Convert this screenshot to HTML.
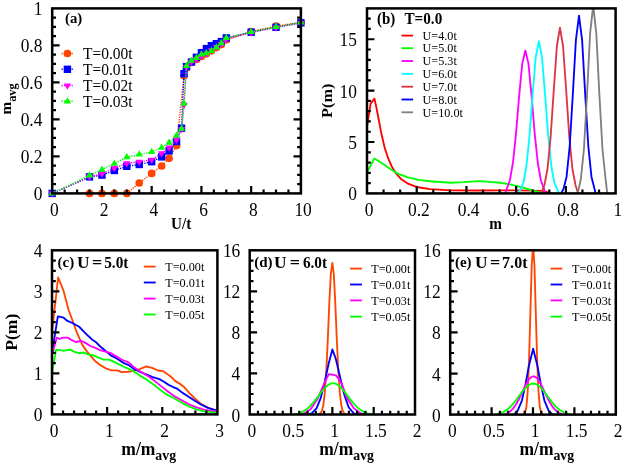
<!DOCTYPE html>
<html><head><meta charset="utf-8"><title>figure</title>
<style>html,body{margin:0;padding:0;background:#fff;}svg{display:block;font-family:"Liberation Serif",serif;will-change:transform;-webkit-font-smoothing:antialiased;}</style>
</head><body>
<svg width="627" height="463" viewBox="0 0 627 463">
<rect width="627" height="463" fill="#fff"/>
<defs>
<clipPath id="ca"><rect x="52.2" y="8.4" width="248.7" height="185"/></clipPath>
<clipPath id="cb"><rect x="367" y="8.4" width="248.6" height="185"/></clipPath>
<clipPath id="cc"><rect x="52" y="250.3" width="165.4" height="164.1"/></clipPath>
<clipPath id="cd"><rect x="249.7" y="250.3" width="165.3" height="164.2"/></clipPath>
<clipPath id="ce"><rect x="450.2" y="250.3" width="165.6" height="164.3"/></clipPath>
</defs>
<g id="pa">
<polyline points="89.5,193.4 101.94,193.4 114.38,193.4 126.81,193.4 139.25,183 151.68,173.4 161.63,166 169.09,158.3 176.55,145.6 184.01,75.8 186.5,67.8 191.47,62.4 196.45,59.4 201.42,56.5 206.39,53.8 211.37,50.8 216.34,47.6 221.32,44.6 226.29,39.8 251.16,31.6 276.03,26 300.9,22.3" fill="none" stroke="#ff4500" stroke-width="1.4" stroke-dasharray="1.3 1.2"/>
<circle cx="89.5" cy="193.4" r="3.85" fill="#ff4500"/>
<circle cx="101.94" cy="193.4" r="3.85" fill="#ff4500"/>
<circle cx="114.38" cy="193.4" r="3.85" fill="#ff4500"/>
<circle cx="126.81" cy="193.4" r="3.85" fill="#ff4500"/>
<circle cx="139.25" cy="183" r="3.85" fill="#ff4500"/>
<circle cx="151.68" cy="173.4" r="3.85" fill="#ff4500"/>
<circle cx="161.63" cy="166" r="3.85" fill="#ff4500"/>
<circle cx="169.09" cy="158.3" r="3.85" fill="#ff4500"/>
<circle cx="176.55" cy="145.6" r="3.85" fill="#ff4500"/>
<circle cx="184.01" cy="75.8" r="3.85" fill="#ff4500"/>
<circle cx="186.5" cy="67.8" r="3.85" fill="#ff4500"/>
<circle cx="191.47" cy="62.4" r="3.85" fill="#ff4500"/>
<circle cx="196.45" cy="59.4" r="3.85" fill="#ff4500"/>
<circle cx="201.42" cy="56.5" r="3.85" fill="#ff4500"/>
<circle cx="206.39" cy="53.8" r="3.85" fill="#ff4500"/>
<circle cx="211.37" cy="50.8" r="3.85" fill="#ff4500"/>
<circle cx="216.34" cy="47.6" r="3.85" fill="#ff4500"/>
<circle cx="221.32" cy="44.6" r="3.85" fill="#ff4500"/>
<circle cx="226.29" cy="39.8" r="3.85" fill="#ff4500"/>
<circle cx="251.16" cy="31.6" r="3.85" fill="#ff4500"/>
<circle cx="276.03" cy="26" r="3.85" fill="#ff4500"/>
<circle cx="300.9" cy="22.3" r="3.85" fill="#ff4500"/>
<polyline points="52.2,193.4 89.5,176.9 101.94,175.1 114.38,170.5 126.81,166.3 139.25,164.5 151.68,161.7 161.63,156.9 169.09,150.9 176.55,141.4 181.52,128.2 184.01,73.6 186.5,66.6 191.47,62 196.45,57.3 201.42,52.7 206.39,48.6 211.37,45.7 216.34,43.7 221.32,41.6 226.29,37.9 251.16,32.2 276.03,27.3 300.9,22.8" fill="none" stroke="#0000ff" stroke-width="1.4" stroke-dasharray="1.3 1.2"/>
<rect x="48.5" y="189.7" width="7.4" height="7.4" fill="#0000ff"/>
<rect x="85.8" y="173.2" width="7.4" height="7.4" fill="#0000ff"/>
<rect x="98.24" y="171.4" width="7.4" height="7.4" fill="#0000ff"/>
<rect x="110.67" y="166.8" width="7.4" height="7.4" fill="#0000ff"/>
<rect x="123.11" y="162.6" width="7.4" height="7.4" fill="#0000ff"/>
<rect x="135.55" y="160.8" width="7.4" height="7.4" fill="#0000ff"/>
<rect x="147.98" y="158" width="7.4" height="7.4" fill="#0000ff"/>
<rect x="157.93" y="153.2" width="7.4" height="7.4" fill="#0000ff"/>
<rect x="165.39" y="147.2" width="7.4" height="7.4" fill="#0000ff"/>
<rect x="172.85" y="137.7" width="7.4" height="7.4" fill="#0000ff"/>
<rect x="177.82" y="124.5" width="7.4" height="7.4" fill="#0000ff"/>
<rect x="180.31" y="69.9" width="7.4" height="7.4" fill="#0000ff"/>
<rect x="182.8" y="62.9" width="7.4" height="7.4" fill="#0000ff"/>
<rect x="187.77" y="58.3" width="7.4" height="7.4" fill="#0000ff"/>
<rect x="192.75" y="53.6" width="7.4" height="7.4" fill="#0000ff"/>
<rect x="197.72" y="49" width="7.4" height="7.4" fill="#0000ff"/>
<rect x="202.69" y="44.9" width="7.4" height="7.4" fill="#0000ff"/>
<rect x="207.67" y="42" width="7.4" height="7.4" fill="#0000ff"/>
<rect x="212.64" y="40" width="7.4" height="7.4" fill="#0000ff"/>
<rect x="217.62" y="37.9" width="7.4" height="7.4" fill="#0000ff"/>
<rect x="222.59" y="34.2" width="7.4" height="7.4" fill="#0000ff"/>
<rect x="247.46" y="28.5" width="7.4" height="7.4" fill="#0000ff"/>
<rect x="272.33" y="23.6" width="7.4" height="7.4" fill="#0000ff"/>
<rect x="297.2" y="19.1" width="7.4" height="7.4" fill="#0000ff"/>
<polyline points="52.2,193.4 89.5,176.5 101.94,173.9 114.38,168.1 126.81,163.3 139.25,161.8 151.68,159.8 161.63,153.4 169.09,147.6 176.55,139.8 181.52,129.2 184.01,104.9 186.5,67 191.47,61.9 196.45,59 201.42,56.1 206.39,53.5 211.37,50.4 216.34,47.2 221.32,44.2 226.29,39.2 251.16,32.6 276.03,27.5 300.9,23" fill="none" stroke="#ff00ff" stroke-width="1.4" stroke-dasharray="1.3 1.2"/>
<path d="M48.55 191.3H55.85L52.2 197.55Z" fill="#ff00ff"/>
<path d="M85.85 174.4H93.16L89.5 180.65Z" fill="#ff00ff"/>
<path d="M98.29 171.8H105.59L101.94 178.05Z" fill="#ff00ff"/>
<path d="M110.72 166H118.03L114.38 172.25Z" fill="#ff00ff"/>
<path d="M123.16 161.2H130.46L126.81 167.45Z" fill="#ff00ff"/>
<path d="M135.59 159.7H142.9L139.25 165.95Z" fill="#ff00ff"/>
<path d="M148.03 157.7H155.33L151.68 163.95Z" fill="#ff00ff"/>
<path d="M157.98 151.3H165.28L161.63 157.55Z" fill="#ff00ff"/>
<path d="M165.44 145.5H172.74L169.09 151.75Z" fill="#ff00ff"/>
<path d="M172.9 137.7H180.2L176.55 143.95Z" fill="#ff00ff"/>
<path d="M177.87 127.1H185.17L181.52 133.35Z" fill="#ff00ff"/>
<path d="M180.36 102.8H187.66L184.01 109.05Z" fill="#ff00ff"/>
<path d="M182.85 64.9H190.15L186.5 71.15Z" fill="#ff00ff"/>
<path d="M187.82 59.8H195.12L191.47 66.05Z" fill="#ff00ff"/>
<path d="M192.8 56.9H200.1L196.45 63.15Z" fill="#ff00ff"/>
<path d="M197.77 54H205.07L201.42 60.25Z" fill="#ff00ff"/>
<path d="M202.74 51.4H210.04L206.39 57.65Z" fill="#ff00ff"/>
<path d="M207.72 48.3H215.02L211.37 54.55Z" fill="#ff00ff"/>
<path d="M212.69 45.1H219.99L216.34 51.35Z" fill="#ff00ff"/>
<path d="M217.67 42.1H224.97L221.32 48.35Z" fill="#ff00ff"/>
<path d="M222.64 37.1H229.94L226.29 43.35Z" fill="#ff00ff"/>
<path d="M247.51 30.5H254.81L251.16 36.75Z" fill="#ff00ff"/>
<path d="M272.38 25.4H279.68L276.03 31.65Z" fill="#ff00ff"/>
<path d="M297.25 20.9H304.55L300.9 27.15Z" fill="#ff00ff"/>
<polyline points="52.2,193.4 89.5,175.4 101.94,169.6 114.38,163.6 126.81,157.2 139.25,154.5 151.68,152 161.63,147.6 169.09,142.7 176.55,135.3 181.52,128.7 184.01,103.4 186.5,65.9 191.47,60.7 196.45,57.8 201.42,54.3 206.39,53.1 211.37,50.8 216.34,47.3 221.32,43.2 226.29,38 251.16,32 276.03,27 300.9,22.5" fill="none" stroke="#00ff00" stroke-width="1.4" stroke-dasharray="1.3 1.2"/>
<path d="M48.55 195.5H55.85L52.2 189.25Z" fill="#00ff00"/>
<path d="M85.85 177.5H93.16L89.5 171.25Z" fill="#00ff00"/>
<path d="M98.29 171.7H105.59L101.94 165.45Z" fill="#00ff00"/>
<path d="M110.72 165.7H118.03L114.38 159.45Z" fill="#00ff00"/>
<path d="M123.16 159.3H130.46L126.81 153.05Z" fill="#00ff00"/>
<path d="M135.59 156.6H142.9L139.25 150.35Z" fill="#00ff00"/>
<path d="M148.03 154.1H155.33L151.68 147.85Z" fill="#00ff00"/>
<path d="M157.98 149.7H165.28L161.63 143.45Z" fill="#00ff00"/>
<path d="M165.44 144.8H172.74L169.09 138.55Z" fill="#00ff00"/>
<path d="M172.9 137.4H180.2L176.55 131.15Z" fill="#00ff00"/>
<path d="M177.87 130.8H185.17L181.52 124.55Z" fill="#00ff00"/>
<path d="M180.36 105.5H187.66L184.01 99.25Z" fill="#00ff00"/>
<path d="M182.85 68H190.15L186.5 61.75Z" fill="#00ff00"/>
<path d="M187.82 62.8H195.12L191.47 56.55Z" fill="#00ff00"/>
<path d="M192.8 59.9H200.1L196.45 53.65Z" fill="#00ff00"/>
<path d="M197.77 56.4H205.07L201.42 50.15Z" fill="#00ff00"/>
<path d="M202.74 55.2H210.04L206.39 48.95Z" fill="#00ff00"/>
<path d="M207.72 52.9H215.02L211.37 46.65Z" fill="#00ff00"/>
<path d="M212.69 49.4H219.99L216.34 43.15Z" fill="#00ff00"/>
<path d="M217.67 45.3H224.97L221.32 39.05Z" fill="#00ff00"/>
<path d="M222.64 40.1H229.94L226.29 33.85Z" fill="#00ff00"/>
<path d="M247.51 34.1H254.81L251.16 27.85Z" fill="#00ff00"/>
<path d="M272.38 29.1H279.68L276.03 22.85Z" fill="#00ff00"/>
<path d="M297.25 24.6H304.55L300.9 18.35Z" fill="#00ff00"/>
</g>
<g id="pb" clip-path="url(#cb)">
<polyline points="367,126.59 370.6,103.57 374.46,98.64 376.05,105.83 377.86,114.98 381.27,133.07 384.65,147.77 388.06,157.94 391.44,165.91 395.99,173.36 401.65,179.53 407.27,183.33 416.4,186.98 430,189.19 450.78,190.32 476.38,190.52 500,190.42 516.16,190.42 531.08,190.62 541.02,190.83 546.49,191.96 550.96,193.4" fill="none" stroke="#ff0000" stroke-width="1.85" stroke-linejoin="round"/>
<polyline points="367,172.02 374.46,158.46 382.41,163.59 391.44,169.76 398.25,173.87 407.27,177.21 418.63,179.94 430,181.27 450.78,182.71 463.71,182.2 479.37,181.07 489.56,181.89 500,182.71 511.19,184.66 521.13,187.03 531.08,190.01 538.53,192.06 545.99,193.4" fill="none" stroke="#00ff00" stroke-width="1.85" stroke-linejoin="round"/>
<polyline points="505.22,193.4 506.71,188.92 509.82,180.5 512.93,162.74 516.04,133.29 519.14,96.16 522.25,63.64 525.36,50.54 528.47,63.64 531.57,96.16 534.68,133.29 537.79,162.74 540.9,180.5 544,188.92 545,193.4" fill="none" stroke="#ff00ff" stroke-width="1.85" stroke-linejoin="round"/>
<polyline points="517.73,193.4 520.21,190.19 523.32,182.96 526.43,166.02 529.53,135.42 532.64,94.32 535.75,56.75 538.86,41.29 541.96,56.75 545.07,94.32 548.18,135.42 551.29,166.02 554.39,182.96 557.5,190.19 559.49,193.4" fill="none" stroke="#00ffff" stroke-width="1.85" stroke-linejoin="round"/>
<polyline points="541.32,193.4 544.43,184.98 547.53,168.79 550.64,136.7 553.75,90.49 556.86,46.25 559.96,27.62 563.07,46.25 566.18,90.49 569.29,136.7 572.39,168.79 575.5,184.98 578.11,193.4" fill="none" stroke="#dc3545" stroke-width="1.85" stroke-linejoin="round"/>
<polyline points="561.11,193.4 563.47,188.97 566.58,176.66 569.68,146.33 572.79,94.91 575.9,40.01 579.01,15.59 582.11,40.01 585.22,94.91 588.33,146.33 591.44,176.66 594.54,188.97 595.79,193.4" fill="none" stroke="#0000ff" stroke-width="1.85" stroke-linejoin="round"/>
<polyline points="577.66,193.4 580.77,179.52 583.88,149.98 586.99,95.37 590.09,33.59 593.2,5.32 596.31,33.59 599.42,95.37 602.52,149.98 605.63,179.52 607.25,193.4" fill="none" stroke="#808080" stroke-width="1.85" stroke-linejoin="round"/>
</g>
<g id="pc" clip-path="url(#cc)">
<polyline points="52,332.35 58.12,277.38 63.58,290.91 68.54,309.79 72.34,320.04 75.71,329.52 79.13,337.64 82.49,345.11 87.23,351.88 91.31,356.6 95.39,361.35 100.79,365.42 106.25,368.53 111.65,370.42 117.11,370.42 121.85,372.19 127.92,371.78 133.38,370.83 139.17,369.35 146.33,366.48 152.12,367.92 157.86,370.5 162.87,371.08 167.89,374.4 171.47,377.27 175.06,380.84 180.79,384.41 184.38,387.28 189.45,393.03 195.18,398.77 200.92,403.82 208.08,407.84 215.97,410.26 217.4,410.71" fill="none" stroke="#ff4500" stroke-width="1.85" stroke-linejoin="round"/>
<polyline points="52,352.86 57.84,316.35 63.58,317.58 66.94,320.7 72.34,323 79.13,326.77 83.87,331.53 88.61,336.29 92.69,340.06 95.39,341.7 99.47,345.77 106.25,351.47 111.65,355.94 117.11,358.65 123.89,363.12 129.3,365.42 134.7,369.48 139.17,371.53 146.33,374.4 152.12,376.82 159.29,379.12 163.59,381.54 168.61,384.86 173.62,387.28 177.21,388.72 182.22,392.62 189.45,397.33 195.18,400.94 200.92,404.51 208.08,407.84 215.97,410.26 217.4,410.71" fill="none" stroke="#0000ff" stroke-width="1.85" stroke-linejoin="round"/>
<polyline points="52,354.91 56.74,337.64 59.44,339 62.86,337.64 67.6,337.64 70.97,339.65 75.71,341.99 81.17,341.01 84.53,342.36 91.31,346.46 95.39,347.82 99.47,349.83 103.55,351.18 110.33,352.82 115.73,355.94 122.52,360 128.64,362.3 133.38,366.77 139.17,370.79 146.33,375.1 153.56,380.1 160.72,385.85 167.89,391.59 175.06,396.64 182.22,400.66 189.45,404.51 196.61,407.38 203.78,409.56 210.95,410.99 215.97,411.41 217.4,411.53" fill="none" stroke="#ff00ff" stroke-width="1.85" stroke-linejoin="round"/>
<polyline points="52,373.38 56.08,349.58 60.16,350.11 63.52,350.93 66.94,350.11 70.3,349.58 74.38,351.88 79.13,353.23 83.87,352.53 88.61,354.59 94.01,355.53 98.09,357.29 103.55,359.59 108.95,359.59 113.03,361.35 118.44,364.06 125.22,367.47 132,370.3 139.17,375.1 146.33,379.41 153.56,384.41 160.72,390.15 167.89,395.2 175.06,398.77 182.22,403.08 189.45,406.69 196.61,409.27 203.78,411.28 210.95,412.14 215.97,412.43 217.4,412.55" fill="none" stroke="#00ff00" stroke-width="1.85" stroke-linejoin="round"/>
</g>
<g id="pd" clip-path="url(#cd)">
<polyline points="320.78,414.5 318.92,414.19 320.41,413.37 321.89,410.94 323.38,404.86 324.87,392.13 326.36,369.94 327.85,338.35 329.33,302.83 330.82,274 332.31,262.82 333.8,274 335.28,302.83 336.77,338.35 338.26,369.94 339.75,392.13 341.23,404.86 342.72,410.94 344.21,413.37 345.7,414.19 343.92,414.5" fill="none" stroke="#ff4500" stroke-width="1.85" stroke-linejoin="round"/>
<polyline points="308.38,414.5 311.69,413.47 316.65,408.14 320.78,397.87 324.91,381.15 328.63,363.7 332.35,349.44 335.82,358.98 340.12,377.14 344.42,395.31 348.71,407.32 353.84,413.47 357.14,414.5" fill="none" stroke="#0000ff" stroke-width="1.85" stroke-linejoin="round"/>
<polyline points="299.29,414.5 304.25,413.47 310.7,409.06 317.64,398.7 323.67,384.94 326.56,378.58 328.88,374.17 332.35,374.68 335.82,375.4 338.55,378.58 341.85,384.02 346.98,397.87 353.84,408.24 360.45,413.27 365.41,414.5" fill="none" stroke="#ff00ff" stroke-width="1.85" stroke-linejoin="round"/>
<polyline points="293.82,414.5 296.27,414.03 298.73,413.37 301.18,412.44 303.64,411.2 306.09,409.6 308.55,407.6 311,405.2 313.46,402.42 315.91,399.34 318.37,396.09 320.82,392.83 323.28,389.75 325.73,387.06 328.18,384.98 330.64,383.65 333.09,383.2 335.55,383.65 338,384.98 340.46,387.06 342.91,389.75 345.37,392.83 347.82,396.09 350.28,399.34 352.73,402.42 355.19,405.2 357.64,407.6 360.1,409.6 362.55,411.2 365.01,412.44 367.46,413.37 369.91,414.03 372.37,414.5" fill="none" stroke="#00ff00" stroke-width="1.85" stroke-linejoin="round"/>
</g>
<g id="pe" clip-path="url(#ce)">
<polyline points="523.89,414.6 523.75,414.19 525.08,412.56 526.42,406.72 527.75,390.81 529.08,358.44 530.42,310.88 531.75,264.73 533.08,245.17 534.42,264.73 535.75,310.88 537.08,358.44 538.42,390.81 539.75,406.72 541.08,412.56 542.41,414.19 542.11,414.6" fill="none" stroke="#ff4500" stroke-width="1.85" stroke-linejoin="round"/>
<polyline points="510.81,414.6 514.12,414.09 517.6,410.8 521.9,400.53 525.38,384.92 528.86,365.93 533.17,348.67 537.47,365.93 540.95,384.92 544.43,400.53 548.73,410.8 552.21,414.09 555.52,414.6" fill="none" stroke="#0000ff" stroke-width="1.85" stroke-linejoin="round"/>
<polyline points="503.54,414.6 505.41,414.03 507.28,413.21 509.16,412.08 511.03,410.57 512.9,408.6 514.77,406.16 516.65,403.22 518.52,399.82 520.39,396.05 522.26,392.07 524.14,388.08 526.01,384.31 527.88,381.03 529.75,378.47 531.62,376.85 533.5,376.3 535.37,376.85 537.24,378.47 539.11,381.03 540.99,384.31 542.86,388.08 544.73,392.07 546.6,396.05 548.48,399.82 550.35,403.22 552.22,406.16 554.09,408.6 555.96,410.57 557.84,412.08 559.71,413.21 561.58,414.03 563.45,414.6" fill="none" stroke="#ff00ff" stroke-width="1.85" stroke-linejoin="round"/>
<polyline points="495.02,414.6 497.41,414.14 499.8,413.47 502.19,412.55 504.58,411.32 506.97,409.73 509.36,407.74 511.74,405.35 514.13,402.59 516.52,399.53 518.91,396.3 521.3,393.05 523.69,389.99 526.08,387.33 528.47,385.25 530.86,383.94 533.25,383.49 535.64,383.94 538.03,385.25 540.42,387.33 542.81,389.99 545.19,393.05 547.58,396.3 549.97,399.53 552.36,402.59 554.75,405.35 557.14,407.74 559.53,409.73 561.92,411.32 564.31,412.55 566.7,413.47 569.09,414.14 571.48,414.6" fill="none" stroke="#00ff00" stroke-width="1.85" stroke-linejoin="round"/>
</g>
<rect x="52.2" y="8.4" width="248.7" height="185" fill="none" stroke="#000" stroke-width="2.5"/>
<rect x="367" y="8.4" width="248.6" height="185" fill="none" stroke="#000" stroke-width="2.5"/>
<rect x="52" y="250.3" width="165.4" height="164.1" fill="none" stroke="#000" stroke-width="2.5"/>
<rect x="249.7" y="250.3" width="165.3" height="164.2" fill="none" stroke="#000" stroke-width="2.5"/>
<rect x="450.2" y="250.3" width="165.6" height="164.3" fill="none" stroke="#000" stroke-width="2.5"/>
<path d="M64.64 193.4V189.6M77.07 193.4V189.6M89.5 193.4V189.6M101.94 193.4V186M114.38 193.4V189.6M126.81 193.4V189.6M139.25 193.4V189.6M151.68 193.4V186M164.12 193.4V189.6M176.55 193.4V189.6M188.99 193.4V189.6M201.42 193.4V186M213.86 193.4V189.6M226.29 193.4V189.6M238.72 193.4V189.6M251.16 193.4V186M263.59 193.4V189.6M276.03 193.4V189.6M288.46 193.4V189.6M52.2 184.15H56M300.9 184.15H297.1M52.2 174.9H56M300.9 174.9H297.1M52.2 165.65H56M300.9 165.65H297.1M52.2 156.4H59.6M300.9 156.4H293.5M52.2 147.15H56M300.9 147.15H297.1M52.2 137.9H56M300.9 137.9H297.1M52.2 128.65H56M300.9 128.65H297.1M52.2 119.4H59.6M300.9 119.4H293.5M52.2 110.15H56M300.9 110.15H297.1M52.2 100.9H56M300.9 100.9H297.1M52.2 91.65H56M300.9 91.65H297.1M52.2 82.4H59.6M300.9 82.4H293.5M52.2 73.15H56M300.9 73.15H297.1M52.2 63.9H56M300.9 63.9H297.1M52.2 54.65H56M300.9 54.65H297.1M52.2 45.4H59.6M300.9 45.4H293.5M52.2 36.15H56M300.9 36.15H297.1M52.2 26.9H56M300.9 26.9H297.1M52.2 17.65H56M300.9 17.65H297.1" stroke="#000" stroke-width="2.2" fill="none"/>
<path d="M383.57 193.4V189.6M400.15 193.4V189.6M416.72 193.4V186M433.29 193.4V189.6M449.87 193.4V189.6M466.44 193.4V186M483.01 193.4V189.6M499.59 193.4V189.6M516.16 193.4V186M532.73 193.4V189.6M549.31 193.4V189.6M565.88 193.4V186M582.45 193.4V189.6M599.03 193.4V189.6M367 183.12H370.8M367 172.84H370.8M367 162.57H370.8M367 152.29H370.8M367 142.01H374.4M367 131.73H370.8M367 121.46H370.8M367 111.18H370.8M367 100.9H370.8M367 90.62H374.4M367 80.34H370.8M367 70.07H370.8M367 59.79H370.8M367 49.51H370.8M367 39.23H374.4M367 28.96H370.8M367 18.68H370.8" stroke="#000" stroke-width="2.2" fill="none"/>
<path d="M63.03 414.4V410.6M74.05 414.4V410.6M85.08 414.4V410.6M96.11 414.4V410.6M107.13 414.4V407M118.16 414.4V410.6M129.19 414.4V410.6M140.21 414.4V410.6M151.24 414.4V410.6M162.27 414.4V407M173.29 414.4V410.6M184.32 414.4V410.6M195.35 414.4V410.6M206.37 414.4V410.6M52 404.14H55.8M52 393.89H55.8M52 383.63H55.8M52 373.38H59.4M52 363.12H55.8M52 352.86H55.8M52 342.61H55.8M52 332.35H59.4M52 322.09H55.8M52 311.84H55.8M52 301.58H55.8M52 291.32H59.4M52 281.07H55.8M52 270.81H55.8M52 260.56H55.8" stroke="#000" stroke-width="2.2" fill="none"/>
<path d="M257.96 414.5V410.7M266.23 414.5V410.7M274.5 414.5V410.7M282.76 414.5V410.7M291.02 414.5V407.1M299.29 414.5V410.7M307.56 414.5V410.7M315.82 414.5V410.7M324.08 414.5V410.7M332.35 414.5V407.1M340.62 414.5V410.7M348.88 414.5V410.7M357.14 414.5V410.7M365.41 414.5V410.7M373.68 414.5V407.1M381.94 414.5V410.7M390.2 414.5V410.7M398.47 414.5V410.7M406.74 414.5V410.7M249.7 404.24H253.5M249.7 393.98H253.5M249.7 383.71H253.5M249.7 373.45H257.1M249.7 363.19H253.5M249.7 352.93H253.5M249.7 342.66H253.5M249.7 332.4H257.1M249.7 322.14H253.5M249.7 311.88H253.5M249.7 301.61H253.5M249.7 291.35H257.1M249.7 281.09H253.5M249.7 270.83H253.5M249.7 260.56H253.5" stroke="#000" stroke-width="2.2" fill="none"/>
<path d="M458.48 414.6V410.8M466.76 414.6V410.8M475.04 414.6V410.8M483.32 414.6V410.8M491.6 414.6V407.2M499.88 414.6V410.8M508.16 414.6V410.8M516.44 414.6V410.8M524.72 414.6V410.8M533 414.6V407.2M541.28 414.6V410.8M549.56 414.6V410.8M557.84 414.6V410.8M566.12 414.6V410.8M574.4 414.6V407.2M582.68 414.6V410.8M590.96 414.6V410.8M599.24 414.6V410.8M607.52 414.6V410.8M450.2 404.33H454M450.2 394.06H454M450.2 383.79H454M450.2 373.53H457.6M450.2 363.26H454M450.2 352.99H454M450.2 342.72H454M450.2 332.45H457.6M450.2 322.18H454M450.2 311.91H454M450.2 301.64H454M450.2 291.38H457.6M450.2 281.11H454M450.2 270.84H454M450.2 260.57H454" stroke="#000" stroke-width="2.2" fill="none"/>
<text transform="translate(42.4 200.4) scale(1 1.115)" font-size="17.4" text-anchor="end">0</text>
<text transform="translate(42.4 163.4) scale(1 1.115)" font-size="17.4" text-anchor="end">0.2</text>
<text transform="translate(42.4 126.4) scale(1 1.115)" font-size="17.4" text-anchor="end">0.4</text>
<text transform="translate(42.4 89.4) scale(1 1.115)" font-size="17.4" text-anchor="end">0.6</text>
<text transform="translate(42.4 52.4) scale(1 1.115)" font-size="17.4" text-anchor="end">0.8</text>
<text transform="translate(42.4 15.4) scale(1 1.115)" font-size="17.4" text-anchor="end">1</text>
<text transform="translate(54.4 215.7) scale(1 1.115)" font-size="17.4" text-anchor="middle">0</text>
<text transform="translate(104.14 215.7) scale(1 1.115)" font-size="17.4" text-anchor="middle">2</text>
<text transform="translate(153.88 215.7) scale(1 1.115)" font-size="17.4" text-anchor="middle">4</text>
<text transform="translate(203.62 215.7) scale(1 1.115)" font-size="17.4" text-anchor="middle">6</text>
<text transform="translate(253.36 215.7) scale(1 1.115)" font-size="17.4" text-anchor="middle">8</text>
<text transform="translate(303.1 215.7) scale(1 1.115)" font-size="17.4" text-anchor="middle">10</text>
<text transform="translate(357 200.4) scale(1 1.115)" font-size="17.4" text-anchor="end">0</text>
<text transform="translate(357 149.01) scale(1 1.115)" font-size="17.4" text-anchor="end">5</text>
<text transform="translate(357 97.62) scale(1 1.115)" font-size="17.4" text-anchor="end">10</text>
<text transform="translate(357 46.23) scale(1 1.115)" font-size="17.4" text-anchor="end">15</text>
<text transform="translate(369.2 215.7) scale(1 1.115)" font-size="17.4" text-anchor="middle">0</text>
<text transform="translate(418.92 215.7) scale(1 1.115)" font-size="17.4" text-anchor="middle">0.2</text>
<text transform="translate(468.64 215.7) scale(1 1.115)" font-size="17.4" text-anchor="middle">0.4</text>
<text transform="translate(518.36 215.7) scale(1 1.115)" font-size="17.4" text-anchor="middle">0.6</text>
<text transform="translate(568.08 215.7) scale(1 1.115)" font-size="17.4" text-anchor="middle">0.8</text>
<text transform="translate(617.8 215.7) scale(1 1.115)" font-size="17.4" text-anchor="middle">1</text>
<text transform="translate(42.4 421.4) scale(1 1.115)" font-size="17.4" text-anchor="end">0</text>
<text transform="translate(42.4 380.38) scale(1 1.115)" font-size="17.4" text-anchor="end">1</text>
<text transform="translate(42.4 339.35) scale(1 1.115)" font-size="17.4" text-anchor="end">2</text>
<text transform="translate(42.4 298.32) scale(1 1.115)" font-size="17.4" text-anchor="end">3</text>
<text transform="translate(42.4 257.3) scale(1 1.115)" font-size="17.4" text-anchor="end">4</text>
<text transform="translate(54.2 437.3) scale(1 1.115)" font-size="17.4" text-anchor="middle">0</text>
<text transform="translate(109.33 437.3) scale(1 1.115)" font-size="17.4" text-anchor="middle">1</text>
<text transform="translate(164.47 437.3) scale(1 1.115)" font-size="17.4" text-anchor="middle">2</text>
<text transform="translate(219.6 437.3) scale(1 1.115)" font-size="17.4" text-anchor="middle">3</text>
<text transform="translate(240.3 421.5) scale(1 1.115)" font-size="17.4" text-anchor="end">0</text>
<text transform="translate(240.3 380.45) scale(1 1.115)" font-size="17.4" text-anchor="end">4</text>
<text transform="translate(240.3 339.4) scale(1 1.115)" font-size="17.4" text-anchor="end">8</text>
<text transform="translate(240.3 298.35) scale(1 1.115)" font-size="17.4" text-anchor="end">12</text>
<text transform="translate(240.3 257.3) scale(1 1.115)" font-size="17.4" text-anchor="end">16</text>
<text transform="translate(251.9 437.3) scale(1 1.115)" font-size="17.4" text-anchor="middle">0</text>
<text transform="translate(293.22 437.3) scale(1 1.115)" font-size="17.4" text-anchor="middle">0.5</text>
<text transform="translate(334.55 437.3) scale(1 1.115)" font-size="17.4" text-anchor="middle">1</text>
<text transform="translate(375.88 437.3) scale(1 1.115)" font-size="17.4" text-anchor="middle">1.5</text>
<text transform="translate(417.2 437.3) scale(1 1.115)" font-size="17.4" text-anchor="middle">2</text>
<text transform="translate(440.7 421.6) scale(1 1.115)" font-size="17.4" text-anchor="end">0</text>
<text transform="translate(440.7 380.53) scale(1 1.115)" font-size="17.4" text-anchor="end">4</text>
<text transform="translate(440.7 339.45) scale(1 1.115)" font-size="17.4" text-anchor="end">8</text>
<text transform="translate(440.7 298.38) scale(1 1.115)" font-size="17.4" text-anchor="end">12</text>
<text transform="translate(440.7 257.3) scale(1 1.115)" font-size="17.4" text-anchor="end">16</text>
<text transform="translate(452.4 437.3) scale(1 1.115)" font-size="17.4" text-anchor="middle">0</text>
<text transform="translate(493.8 437.3) scale(1 1.115)" font-size="17.4" text-anchor="middle">0.5</text>
<text transform="translate(535.2 437.3) scale(1 1.115)" font-size="17.4" text-anchor="middle">1</text>
<text transform="translate(576.6 437.3) scale(1 1.115)" font-size="17.4" text-anchor="middle">1.5</text>
<text transform="translate(618 437.3) scale(1 1.115)" font-size="17.4" text-anchor="middle">2</text>
<text transform="translate(10.8 99) rotate(-90) scale(1 1.0)" font-size="15.3" font-weight="bold" text-anchor="middle">m<tspan font-size="12.3" dy="5">avg</tspan></text>
<text transform="translate(181.2 229) scale(1 1.05)" font-size="15.2" text-anchor="middle" font-weight="bold">U/t</text>
<text transform="translate(331.6 100.8) rotate(-90) scale(1 0.95)" font-size="16.2" text-anchor="middle" font-weight="bold">P(m)</text>
<text transform="translate(495.7 229) scale(1 1.03)" font-size="15.2" text-anchor="middle" font-weight="bold">m</text>
<text transform="translate(16.8 332.3) rotate(-90) scale(1 0.99)" font-size="17.6" text-anchor="middle" font-weight="bold">P(m)</text>
<text transform="translate(148.7 454.9) scale(1 1.08)" font-size="17.5" font-weight="bold" text-anchor="middle">m/m<tspan font-size="13.8" dy="4.63">avg</tspan></text>
<text transform="translate(346.6 454.9) scale(1 1.08)" font-size="17.5" font-weight="bold" text-anchor="middle">m/m<tspan font-size="13.8" dy="4.63">avg</tspan></text>
<text transform="translate(546.8 454.9) scale(1 1.08)" font-size="17.5" font-weight="bold" text-anchor="middle">m/m<tspan font-size="13.8" dy="4.63">avg</tspan></text>
<text transform="translate(65 22.8) scale(1 1.03)" font-size="14.8" text-anchor="start" font-weight="bold">(a)</text>
<text transform="translate(376.9 24) scale(1 1.07)" font-size="15.0" text-anchor="start" font-weight="bold">(b)</text>
<text transform="translate(404.5 24) scale(1 1.08)" font-size="15.2" text-anchor="start" font-weight="bold">T=0.0</text>
<text transform="translate(57.6 267.4) scale(1 1.0)" font-size="15" font-weight="bold">(c)</text>
<text transform="translate(77 268) scale(1.16 1.14)" font-size="15" font-weight="bold">U</text>
<text transform="translate(92 268) scale(1.2 1.14)" font-size="15" font-weight="bold">=</text>
<text transform="translate(104.2 268) scale(1.02 1.14)" font-size="15" font-weight="bold">5.0t</text>
<text transform="translate(254.2 267.4) scale(1 1.0)" font-size="15" font-weight="bold">(d)</text>
<text transform="translate(274.1 268) scale(1.16 1.14)" font-size="15" font-weight="bold">U</text>
<text transform="translate(289.8 268) scale(1.2 1.14)" font-size="15" font-weight="bold">=</text>
<text transform="translate(302.9 268) scale(1.02 1.14)" font-size="15" font-weight="bold">6.0t</text>
<text transform="translate(454.9 267.4) scale(1 1.0)" font-size="15" font-weight="bold">(e)</text>
<text transform="translate(474.9 268) scale(1.16 1.14)" font-size="15" font-weight="bold">U</text>
<text transform="translate(489.9 268) scale(1.2 1.14)" font-size="15" font-weight="bold">=</text>
<text transform="translate(502.1 268) scale(1.07 1.14)" font-size="15" font-weight="bold">7.0t</text>
<path d="M61.5 53.5H73.4" stroke="#ff4500" stroke-width="1.4" stroke-dasharray="1.3 1.2"/>
<circle cx="67.4" cy="53.5" r="3.85" fill="#ff4500"/>
<text transform="translate(83 59.4) scale(1 1.14)" font-size="15.5" text-anchor="start">T=0.00t</text>
<path d="M61.5 69.3H73.4" stroke="#0000ff" stroke-width="1.4" stroke-dasharray="1.3 1.2"/>
<rect x="63.7" y="65.6" width="7.4" height="7.4" fill="#0000ff"/>
<text transform="translate(83 75.2) scale(1 1.14)" font-size="15.5" text-anchor="start">T=0.01t</text>
<path d="M61.5 85.5H73.4" stroke="#ff00ff" stroke-width="1.4" stroke-dasharray="1.3 1.2"/>
<path d="M63.75 83.4H71.05L67.4 89.65Z" fill="#ff00ff"/>
<text transform="translate(83 91.4) scale(1 1.14)" font-size="15.5" text-anchor="start">T=0.02t</text>
<path d="M61.5 101.3H73.4" stroke="#00ff00" stroke-width="1.4" stroke-dasharray="1.3 1.2"/>
<path d="M63.75 103.4H71.05L67.4 97.15Z" fill="#00ff00"/>
<text transform="translate(83 107.2) scale(1 1.14)" font-size="15.5" text-anchor="start">T=0.03t</text>
<path d="M401.5 35.6H413.1" stroke="#ff0000" stroke-width="1.85"/>
<text transform="translate(422.5 39.8) scale(1 0.99)" font-size="12.2" text-anchor="start">U=4.0t</text>
<path d="M401.5 48.2H413.1" stroke="#00ff00" stroke-width="1.85"/>
<text transform="translate(422.5 52.4) scale(1 0.99)" font-size="12.2" text-anchor="start">U=5.0t</text>
<path d="M401.5 61H413.1" stroke="#ff00ff" stroke-width="1.85"/>
<text transform="translate(422.5 65.2) scale(1 0.99)" font-size="12.2" text-anchor="start">U=5.3t</text>
<path d="M401.5 73.8H413.1" stroke="#00ffff" stroke-width="1.85"/>
<text transform="translate(422.5 78) scale(1 0.99)" font-size="12.2" text-anchor="start">U=6.0t</text>
<path d="M401.5 86.7H413.1" stroke="#dc3545" stroke-width="1.85"/>
<text transform="translate(422.5 90.9) scale(1 0.99)" font-size="12.2" text-anchor="start">U=7.0t</text>
<path d="M401.5 99.5H413.1" stroke="#0000ff" stroke-width="1.85"/>
<text transform="translate(422.5 103.7) scale(1 0.99)" font-size="12.2" text-anchor="start">U=8.0t</text>
<path d="M401.5 112.3H413.1" stroke="#808080" stroke-width="1.85"/>
<text transform="translate(422.5 116.5) scale(1 0.99)" font-size="12.2" text-anchor="start">U=10.0t</text>
<path d="M143.8 266.6H155.7" stroke="#ff4500" stroke-width="1.85"/>
<text transform="translate(165.3 270.8) scale(1 0.99)" font-size="12.2" text-anchor="start">T=0.00t</text>
<path d="M143.8 282.5H155.7" stroke="#0000ff" stroke-width="1.85"/>
<text transform="translate(165.3 286.7) scale(1 0.99)" font-size="12.2" text-anchor="start">T=0.01t</text>
<path d="M143.8 298.6H155.7" stroke="#ff00ff" stroke-width="1.85"/>
<text transform="translate(165.3 302.8) scale(1 0.99)" font-size="12.2" text-anchor="start">T=0.03t</text>
<path d="M143.8 314.5H155.7" stroke="#00ff00" stroke-width="1.85"/>
<text transform="translate(165.3 318.7) scale(1 0.99)" font-size="12.2" text-anchor="start">T=0.05t</text>
<path d="M350.1 268.6H361.9" stroke="#ff4500" stroke-width="1.85"/>
<text transform="translate(371.3 272.8) scale(1 0.99)" font-size="12.2" text-anchor="start">T=0.00t</text>
<path d="M350.1 284.5H361.9" stroke="#0000ff" stroke-width="1.85"/>
<text transform="translate(371.3 288.7) scale(1 0.99)" font-size="12.2" text-anchor="start">T=0.01t</text>
<path d="M350.1 300.4H361.9" stroke="#ff00ff" stroke-width="1.85"/>
<text transform="translate(371.3 304.6) scale(1 0.99)" font-size="12.2" text-anchor="start">T=0.03t</text>
<path d="M350.1 316.6H361.9" stroke="#00ff00" stroke-width="1.85"/>
<text transform="translate(371.3 320.8) scale(1 0.99)" font-size="12.2" text-anchor="start">T=0.05t</text>
<path d="M550.6 268.6H562.3" stroke="#ff4500" stroke-width="1.85"/>
<text transform="translate(572.1 272.8) scale(1 0.99)" font-size="12.2" text-anchor="start">T=0.00t</text>
<path d="M550.6 284.5H562.3" stroke="#0000ff" stroke-width="1.85"/>
<text transform="translate(572.1 288.7) scale(1 0.99)" font-size="12.2" text-anchor="start">T=0.01t</text>
<path d="M550.6 300.4H562.3" stroke="#ff00ff" stroke-width="1.85"/>
<text transform="translate(572.1 304.6) scale(1 0.99)" font-size="12.2" text-anchor="start">T=0.03t</text>
<path d="M550.6 316.6H562.3" stroke="#00ff00" stroke-width="1.85"/>
<text transform="translate(572.1 320.8) scale(1 0.99)" font-size="12.2" text-anchor="start">T=0.05t</text>
</svg></body></html>
